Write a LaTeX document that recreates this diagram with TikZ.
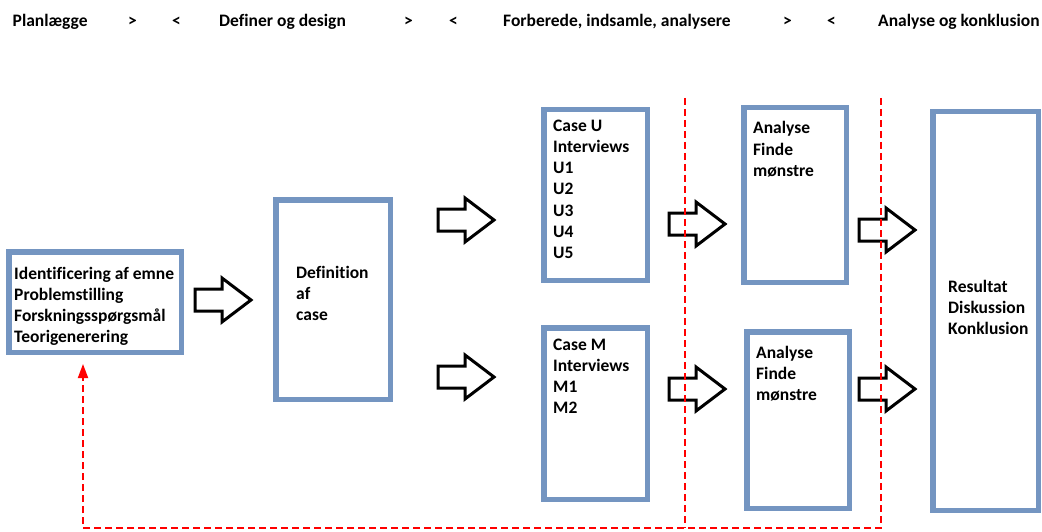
\documentclass[tikz,border=0pt]{standalone}
\usepackage{fontspec}
\setmainfont{Carlito}[Ligatures={NoCommon}]
\usetikzlibrary{arrows.meta}
\definecolor{boxblue}{RGB}{116,149,193}
\tikzset{
  every node/.style={font=\fontsize{17.5}{21.3}\selectfont\bfseries},
  stagebox/.style={draw=boxblue, line width=5.5pt, inner sep=0pt, outer sep=0pt, fill=white},
  label text/.style={anchor=base west, inner sep=0pt, align=left},
  head text/.style={anchor=base west, inner sep=0pt},
  phase line/.style={red, line width=1.8pt, dash pattern=on 7pt off 4pt},
  blockarrow/.pic={
    \draw[black, line width=3pt, miter limit=10]
      (0,-11) -- (27,-11) -- (27,-22) -- (56,0) -- (27,22) -- (27,11) -- (0,11) -- cycle;
  }
}
\begin{document}
\begin{tikzpicture}[x=1pt, y=-1pt]
  \useasboundingbox (0,0) rectangle (1042,532);

  % phase headings
  \node[head text] (h1)  at (12.5,27) {Planlægge};
  \node[head text] (g1)  at (128,27) {>};
  \node[head text] (l1)  at (172,27) {<};
  \node[head text] (h2)  at (219,27) {Definer og design};
  \node[head text] (g2)  at (404,27) {>};
  \node[head text] (l2)  at (449,27) {<};
  \node[head text] (h3)  at (503,27) {Forberede, indsamle, analysere};
  \node[head text] (g3)  at (783,27) {>};
  \node[head text] (l3)  at (827,27) {<};
  \node[head text] (h4)  at (878,27) {Analyse og konklusion};

  % boxes
  \node[stagebox, minimum width=172.5pt, minimum height=100.5pt] (b1) at (95,302) {};
  \node[stagebox, minimum width=114.5pt, minimum height=199.5pt] (b2) at (333,299.5) {};
  \node[stagebox, minimum width=103.5pt, minimum height=170.5pt] (b3) at (595.5,195) {};
  \node[stagebox, minimum width=103.5pt, minimum height=171.5pt] (b4) at (595.5,413.5) {};
  \node[stagebox, minimum width=102.5pt, minimum height=174.5pt] (b5) at (795,195) {};
  \node[stagebox, minimum width=102.5pt, minimum height=176.5pt] (b6) at (798,420) {};
  \node[stagebox, minimum width=105.5pt, minimum height=398.5pt] (b7) at (985.5,311) {};

  % box texts (anchored on the baseline of the last line)
  \node[label text] (t1) at (14,342.9) {Identificering af emne\\Problemstilling\\Forskningsspørgsmål\\Teorigenerering};
  \node[label text] (t2) at (296,320.6) {Definition\\af\\case};
  \node[label text] (t3) at (553,258.8) {Case U\\Interviews\\U1\\U2\\U3\\U4\\U5};
  \node[label text] (t4) at (553,413.9) {Case M\\Interviews\\M1\\M2};
  \node[label text] (t5) at (753,176.6) {Analyse\\Finde\\mønstre};
  \node[label text] (t6) at (756,400.6) {Analyse\\Finde\\mønstre};
  \node[label text] (t7) at (948,334.6) {Resultat\\Diskussion\\Konklusion};

  % block arrows between the stages
  \pic (a1)  at (195,300) {blockarrow};
  \pic (a2u) at (438,220) {blockarrow};
  \pic (a2d) at (438,377) {blockarrow};
  \pic (a3u) at (669,224) {blockarrow};
  \pic (a3d) at (669,389) {blockarrow};
  \pic (a4u) at (859,230) {blockarrow};
  \pic (a4d) at (859,389) {blockarrow};

  % phase borders and the feedback loop
  \coordinate (p1top) at (685,98);
  \coordinate (p1bot) at (685,528);
  \coordinate (p2top) at (881,98);
  \coordinate (p2bot) at (881,528);
  \coordinate (fb) at (83,364);
  \draw[phase line] (p1top) -- (p1bot);
  \draw[phase line, -{Triangle[length=14pt,width=10pt]}] (p2top) -- (p2bot) -| (fb);
\end{tikzpicture}
\end{document}
